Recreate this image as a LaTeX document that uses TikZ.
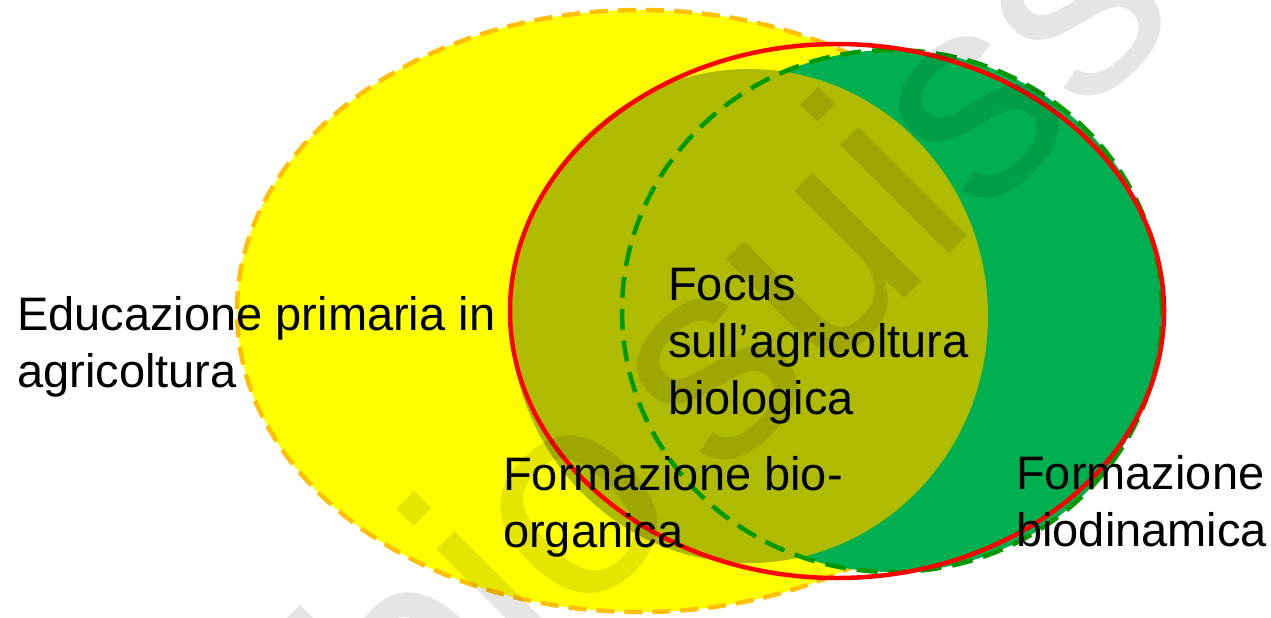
\documentclass[tikz,border=0pt]{standalone}
\usepackage{fontspec}
\setmainfont{Liberation Sans}
\definecolor{yellowfill}{RGB}{255,255,0}
\definecolor{orangeline}{RGB}{255,192,0}
\definecolor{greenfill}{RGB}{0,176,80}
\definecolor{greenline}{RGB}{0,153,0}
\definecolor{olivefill}{RGB}{175,187,0}
\definecolor{redline}{RGB}{255,0,0}
\begin{document}
\begin{tikzpicture}[x=1pt,y=-1pt,
  lbl/.style={anchor=base west, inner sep=0pt, align=left, text=black,
    font=\fontsize{47}{57}\selectfont},
  orangedash/.style={draw=orangeline, line width=4.5pt, dash pattern=on 18pt off 10pt},
  greendash/.style={draw=greenline, line width=4.5pt, dash pattern=on 21pt off 11pt},
  redring/.style={draw=redline, line width=4.5pt}]
\useasboundingbox (0,0) rectangle (1271,618);
\fill[white] (0,0) rectangle (1271,618);
% yellow set
\fill[yellowfill] (640,311) ellipse [x radius=403pt, y radius=301pt];
\draw[orangedash] (640,311) ellipse [x radius=403pt, y radius=301pt];
% green set
\fill[greenfill] (892,311) ellipse [x radius=270pt, y radius=261pt];
% focus set
\fill[olivefill] (749,316) ellipse [x radius=239pt, y radius=247pt];
\draw[greendash] (892,311) ellipse [x radius=270pt, y radius=261pt];
% red outline
\draw[redring] (837,311) ellipse [x radius=327pt, y radius=267pt];
% watermark
\node[anchor=base west, inner sep=0pt, rotate=45, opacity=0.1, text=black,
  font=\fontsize{290}{290}\selectfont] (wm) at (417,786) {bio\hspace{0.14em}suisse};
% labels (anchored at the baseline of the last line)
\node[lbl] (edu) at (17,387) {Educazione primaria in\\agricoltura};
\node[lbl] (focus) at (668,414) {Focus\\sull’agricoltura\\biologica};
\node[lbl] (bioorg) at (503,547) {Formazione bio-\\organica};
\node[lbl] (biodin) at (1016,546) {Formazione\\biodinamica};
\end{tikzpicture}
\end{document}
